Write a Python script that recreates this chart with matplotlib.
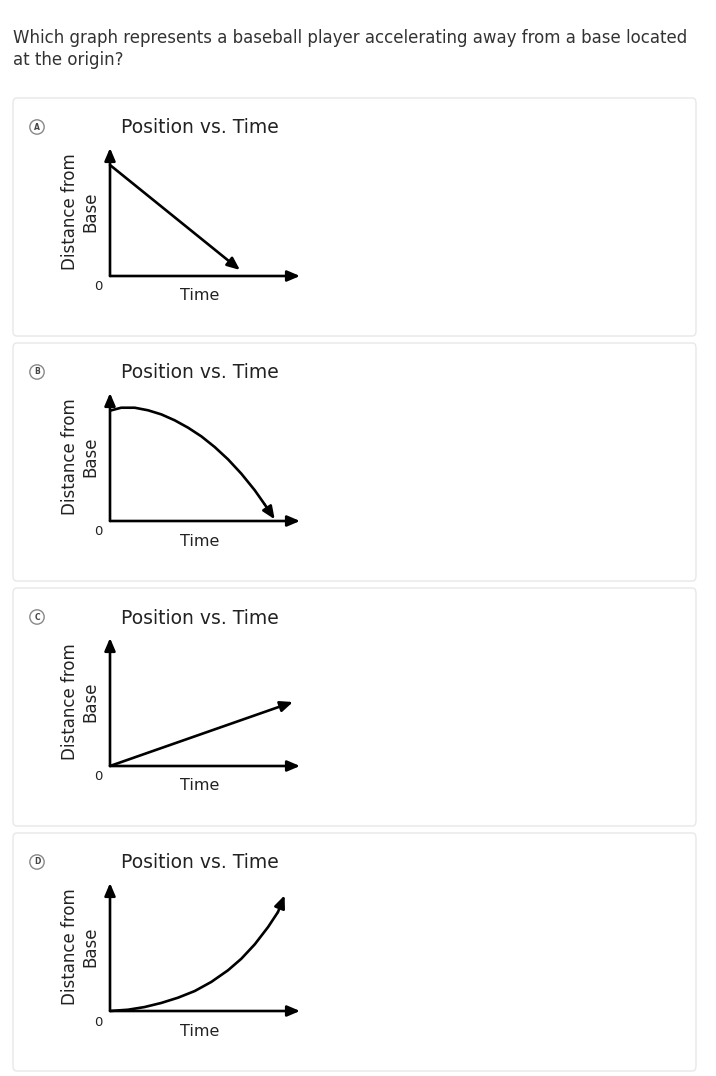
import matplotlib
matplotlib.use("Agg")
import matplotlib.pyplot as plt
from matplotlib.patches import FancyBboxPatch

# ---------------- data ----------------
question = ["Which graph represents a baseball player accelerating away from a base located",
            "at the origin?"]
option_letters = ["A", "B", "C", "D"]
panel_title = "Position vs. Time"
x_label = "Time"
y_label_lines = ["Distance from", "Base"]
origin_label = "0"

# normalised time (0..1 along x axis) and distance (0..1 along y axis)
time_A = [0.0, 0.684]
dist_A = [0.867, 0.047]

time_B = [0.0, 0.059, 0.130, 0.200, 0.270, 0.340, 0.411, 0.481, 0.551,
          0.621, 0.691, 0.762, 0.814, 0.867]
dist_B = [0.862, 0.885, 0.885, 0.865, 0.833, 0.787, 0.729, 0.661, 0.578,
          0.482, 0.370, 0.240, 0.130, 0.013]

time_C = [0.0, 0.963]
dist_C = [0.0, 0.50]

time_D = [0.0, 0.095, 0.182, 0.270, 0.358, 0.446, 0.533, 0.621, 0.691,
          0.762, 0.832, 0.884, 0.919]
dist_D = [0.0, 0.010, 0.031, 0.063, 0.104, 0.156, 0.227, 0.318, 0.408,
          0.521, 0.656, 0.773, 0.904]

series = [(time_A, dist_A), (time_B, dist_B), (time_C, dist_C), (time_D, dist_D)]

# ---------------- layout ----------------
W, H = 716, 1076
fig = plt.figure(figsize=(W / 100, H / 100), dpi=100)
fig.patch.set_facecolor("white")

def fx(px):
    return px / W

def fy(py):
    return 1 - py / H

FONT = "DejaVu Sans"
TXT = "#222222"

fig.text(fx(13), fy(38), question[0], fontsize=12, color="#333333",
         family=FONT, va="center", ha="left")
fig.text(fx(13), fy(60), question[1], fontsize=12, color="#333333",
         family=FONT, va="center", ha="left")

card_pitch = 245
for k, (tt, dd) in enumerate(series):
    dy = k * card_pitch
    # card
    card = FancyBboxPatch((fx(13), fy(336 + dy)), fx(696 - 13), (336 - 98) / H,
                          boxstyle="round,pad=0,rounding_size=0.005",
                          transform=fig.transFigure, facecolor="white",
                          edgecolor="#e8e8e8", linewidth=1.0, zorder=-5)
    fig.add_artist(card)

    # option letter circle
    fig.text(fx(37), fy(127 + dy), option_letters[k], fontsize=5.5, color="#444444",
             family=FONT, ha="center", va="center", fontweight="bold",
             bbox=dict(boxstyle="circle,pad=0.35", facecolor="white",
                       edgecolor="#888888", linewidth=1.0))

    # plot axes
    left, right = 110, 300
    top, bottom = 148 + dy, 276 + dy
    ax = fig.add_axes([fx(left), fy(bottom), (right - left) / W, (bottom - top) / H])
    ax.set_xlim(0, 1)
    ax.set_ylim(0, 1)
    ax.axis("off")
    ax.patch.set_alpha(0)

    arrow_kw = dict(arrowstyle="-|>,head_length=0.75,head_width=0.32",
                    color="black", lw=1.9, shrinkA=0, shrinkB=0)
    ax.annotate("", xy=(1, 0), xytext=(0, 0), arrowprops=arrow_kw,
                annotation_clip=False)
    ax.annotate("", xy=(0, 1), xytext=(0, 0), arrowprops=arrow_kw,
                annotation_clip=False)

    ax.plot(tt[:-1], dd[:-1], color="black", lw=1.9, solid_capstyle="butt",
            solid_joinstyle="round", clip_on=False)
    ax.annotate("", xy=(tt[-1], dd[-1]), xytext=(tt[-2], dd[-2]),
                arrowprops=arrow_kw, annotation_clip=False)

    # texts
    fig.text(fx(200), fy(128 + dy), panel_title, fontsize=13.5, color=TXT,
             family=FONT, ha="center", va="center")
    fig.text(fx(200), fy(296 + dy), x_label, fontsize=11.5, color=TXT,
             family=FONT, ha="center", va="center")
    fig.text(fx(98), fy(287 + dy), origin_label, fontsize=9.5, color=TXT,
             family=FONT, ha="center", va="center")
    fig.text(fx(70), fy(212 + dy), y_label_lines[0], fontsize=12, color=TXT,
             family=FONT, ha="center", va="center", rotation=90)
    fig.text(fx(90), fy(212 + dy), y_label_lines[1], fontsize=12, color=TXT,
             family=FONT, ha="center", va="center", rotation=90)

fig.savefig("out.png", dpi=100, facecolor="white")
